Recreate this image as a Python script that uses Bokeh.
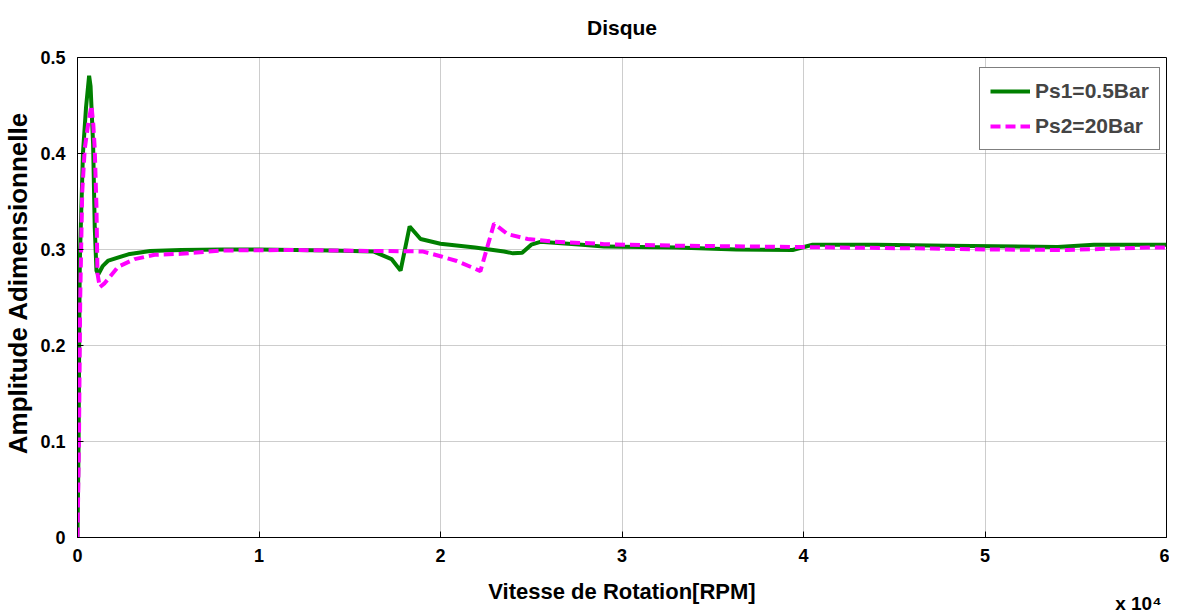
from bokeh.plotting import figure
from bokeh.models import FixedTicker, Legend, LegendItem, LinearAxis, Range1d
from bokeh.embed import file_html
from bokeh.resources import INLINE

# Data (RPM, dimensionless amplitude)
rpm_ps1 = [0, 60, 110, 130, 300, 470, 640, 720, 860, 950, 1045, 1140, 1400, 1700, 2800, 4000, 5700,
           8000, 10000, 12000, 14000, 16300, 17300, 17800, 18300, 18900, 20000, 21900, 23500, 24000,
           24500, 25000, 25500, 27800, 29000, 33000, 36300, 39400, 40500, 44000, 48000, 54000, 56000, 60000]
amp_ps1 = [0, 0.10, 0.25, 0.29, 0.40, 0.448, 0.481, 0.47, 0.41, 0.323, 0.278, 0.274, 0.283, 0.2885, 0.295, 0.2985, 0.2995,
           0.300, 0.300, 0.2995, 0.299, 0.298, 0.290, 0.278, 0.324, 0.311, 0.306, 0.302, 0.298, 0.296,
           0.2965, 0.305, 0.308, 0.305, 0.303, 0.302, 0.300, 0.2995, 0.305, 0.305, 0.304, 0.3025, 0.305, 0.305]

rpm_ps2 = [0, 80, 150, 260, 400, 590, 770, 870, 950, 1045, 1100, 1230, 1500, 2240, 3150, 4250, 5700,
           8000, 12000, 16000, 19000, 20000, 20900, 21900, 22200, 22950, 23700, 24800, 26300, 28800,
           29000, 33000, 40000, 47000, 50000, 54500, 59000, 60000]
amp_ps2 = [0, 0.10, 0.25, 0.36, 0.405, 0.431, 0.45, 0.43, 0.405, 0.344, 0.275, 0.2607, 0.265, 0.282, 0.29, 0.2945, 0.2955,
           0.299, 0.2995, 0.2985, 0.298, 0.293, 0.288, 0.280, 0.2775, 0.327, 0.316, 0.311, 0.308, 0.306,
           0.3055, 0.304, 0.3025, 0.301, 0.300, 0.2995, 0.302, 0.302]

x_ticks = [0, 10000, 20000, 30000, 40000, 50000, 60000]
x_tick_labels = ["0", "1", "2", "3", "4", "5", "6"]
y_ticks = [0, 0.1, 0.2, 0.3, 0.4, 0.5]
y_tick_labels = ["0", "0.1", "0.2", "0.3", "0.4", "0.5"]
x_multiplier_pos = [58450]
x_multiplier_text = ["x 10\u2074"]

FONT = "Liberation Sans"

p = figure(width=1169, height=616, output_backend="svg", toolbar_location=None,
           x_range=Range1d(0, 60000), y_range=Range1d(0, 0.5),
           min_border_left=76, min_border_right=3, min_border_top=57, min_border_bottom=79)

p.title.text = "Disque\n"
p.title.align = "center"
p.title.text_font = FONT
p.title.text_font_size = "21px"
p.title.text_font_style = "bold"
p.title.text_color = "black"
p.title.text_line_height = 0.6

p.outline_line_color = "black"
p.outline_line_width = 1
p.background_fill_color = "white"
p.border_fill_color = "white"

for ax in (p.xaxis[0], p.yaxis[0]):
    ax.major_tick_in = 6
    ax.major_tick_out = 0
    ax.minor_tick_line_color = None
    ax.axis_line_color = "black"
    ax.major_label_text_font = FONT
    ax.major_label_text_font_size = "18px"
    ax.major_label_text_font_style = "bold"
    ax.major_label_text_color = "black"
    ax.axis_label_text_font = FONT
    ax.axis_label_text_font_style = "bold"
    ax.axis_label_text_color = "black"

p.xaxis[0].ticker = FixedTicker(ticks=x_ticks)
p.xaxis[0].major_label_overrides = dict(zip(x_ticks, x_tick_labels))
p.xaxis[0].axis_label = "Vitesse de Rotation[RPM]"
p.xaxis[0].axis_label_text_font_size = "22px"
p.xaxis[0].major_label_standoff = 11
p.xaxis[0].axis_label_standoff = 14

p.yaxis[0].ticker = FixedTicker(ticks=y_ticks)
p.yaxis[0].major_label_overrides = dict(zip(y_ticks, y_tick_labels))
p.yaxis[0].axis_label = "\u00a0\u00a0\u00a0\u00a0Amplitude Adimensionnelle"
p.yaxis[0].axis_label_text_font_size = "26px"
p.yaxis[0].major_label_standoff = 12
p.yaxis[0].axis_label_standoff = 4

# multiplier label "x 10^4" drawn as a tick label of a second, invisible bottom axis
mult_axis = LinearAxis(ticker=FixedTicker(ticks=x_multiplier_pos),
                       major_label_overrides=dict(zip(x_multiplier_pos, x_multiplier_text)))
mult_axis.axis_line_color = None
mult_axis.major_tick_line_color = None
mult_axis.minor_tick_line_color = None
mult_axis.major_label_standoff = -20
mult_axis.major_label_text_font = FONT
mult_axis.major_label_text_font_size = "19px"
mult_axis.major_label_text_font_style = "bold"
mult_axis.major_label_text_color = "black"
p.add_layout(mult_axis, "below")

p.xgrid.ticker = FixedTicker(ticks=x_ticks)
p.ygrid.ticker = FixedTicker(ticks=y_ticks)
for g in (p.xgrid[0], p.ygrid[0]):
    g.grid_line_color = "#9a9a9a"
    g.grid_line_dash = "1 1"
    g.grid_line_width = 1

r1 = p.line(rpm_ps1, amp_ps1, line_color="#008000", line_width=4)
r2 = p.line(rpm_ps2, amp_ps2, line_color="#ff00ff", line_width=4, line_dash="10 5")

legend = Legend(items=[LegendItem(label="Ps1=0.5Bar", renderers=[r1]),
                       LegendItem(label="Ps2=20Bar", renderers=[r2])],
                location=(902, 387))
legend.border_line_color = "black"
legend.border_line_width = 1
legend.background_fill_color = "white"
legend.background_fill_alpha = 1
legend.label_text_font = FONT
legend.label_text_font_size = "21px"
legend.label_text_font_style = "bold"
legend.glyph_width = 40
legend.glyph_height = 26
legend.label_height = 26
legend.spacing = 9
legend.padding = 10
legend.margin = 0
legend.label_standoff = 5
p.add_layout(legend, "center")

open("out.html", "w").write(file_html(p, INLINE))
